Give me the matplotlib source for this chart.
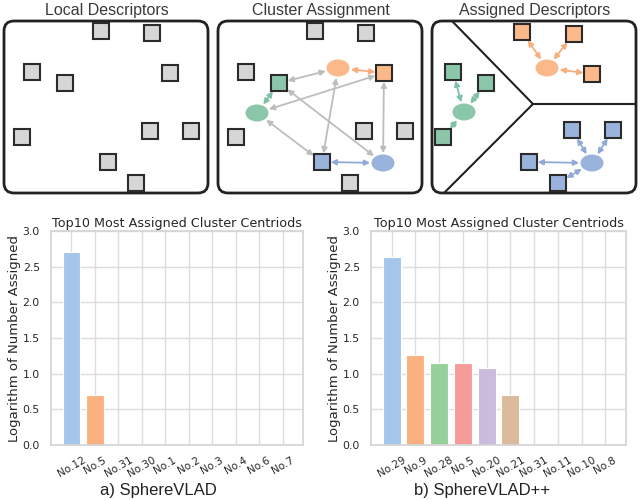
import numpy as np
import matplotlib
matplotlib.use('Agg')
import matplotlib.pyplot as plt
import seaborn as sns
from matplotlib.patches import FancyBboxPatch, Rectangle, Ellipse, FancyArrowPatch

### data
labels_a = ['No.12', 'No.5', 'No.31', 'No.30', 'No.1', 'No.2', 'No.3', 'No.4', 'No.6', 'No.7']
values_a = [2.71, 0.70, 0, 0, 0, 0, 0, 0, 0, 0]
labels_b = ['No.29', 'No.9', 'No.28', 'No.5', 'No.20', 'No.21', 'No.31', 'No.11', 'No.10', 'No.8']
values_b = [2.64, 1.255, 1.146, 1.146, 1.079, 0.70, 0, 0, 0, 0]
chart_title = 'Top10 Most Assigned Cluster Centriods'
ylabel = 'Logarithm of Number Assigned'
panel_titles = ['Local Descriptors', 'Cluster Assignment', 'Assigned Descriptors']

# diagram layout (pixel coords)
desc_x = [101, 152, 32, 65, 170, 22, 150, 191, 108, 136]
desc_y = [31, 33, 72, 83, 73, 137, 131, 131, 162, 183]
box2_shift = 214
colored_idx = {3: 'g', 4: 'o', 8: 'b'}     # which descriptors are colored in panel 2
cent2 = {'g': (257, 113), 'o': (338, 68), 'b': (383, 163)}
gray_links = [(3, 'o'), (4, 'g'), (3, 'b'), (8, 'g'), (8, 'o'), (4, 'b')]
sq3 = {'o': [(522, 32), (574, 34), (592, 74)],
       'g': [(453, 72), (486, 83), (443, 137)],
       'b': [(572, 130), (613, 130), (529, 162), (558, 183)]}
cent3 = {'o': (547, 68), 'g': (464, 112), 'b': (592, 163)}

cfill = {'g': '#8cc6aa', 'o': '#fbb98a', 'b': '#9ab3dc'}
carrow = {'g': '#7fc1a5', 'o': '#f7ad7c', 'b': '#8fa9d8'}
bar_colors = ['#a3c6ea', '#fab17f', '#97d09b', '#f59c99', '#cbbbdd', '#dbba9b',
              '#e9b8dc', '#cfcfcf', '#e5e0a6', '#a8dcea']

sns.set_theme(style='whitegrid')

fig = plt.figure(figsize=(6.4, 5), dpi=100)

# ---- top diagram
dax = fig.add_axes([0, 0, 1, 1])
dax.set_xlim(0, 640)
dax.set_ylim(500, 0)
dax.axis('off')

for x0, t in zip([3, 217, 431], panel_titles):
    dax.add_patch(FancyBboxPatch((x0 + 1, 21), 204, 172, boxstyle='round,pad=0,rounding_size=10',
                                 fc='white', ec='#222222', lw=2.0, zorder=1))
    dax.text(x0 + 104, 10, t, ha='center', va='center', fontsize=11.5,
             family='Liberation Sans', color='#3a3a3a')

def square(x, y, fc):
    r = Rectangle((x - 8, y - 8), 16, 16, fc=fc, ec='#2b2b2b', lw=1.5, zorder=4)
    dax.add_patch(r)
    return r

def centroid(x, y, fc):
    e = Ellipse((x, y), 23, 17, fc=fc, ec='none', zorder=4)
    dax.add_patch(e)
    return e

def arrow(pa, pb, a, b, col):
    dax.add_patch(FancyArrowPatch(pa, pb, patchA=a, patchB=b, arrowstyle='<|-|>',
                                  mutation_scale=8, color=col, lw=1.3, shrinkA=1, shrinkB=1, zorder=3))

# panel 1
for x, y in zip(desc_x, desc_y):
    square(x, y, '#d6d6d6')

# panel 2
sq2 = {}
for i, (x, y) in enumerate(zip(desc_x, desc_y)):
    c = colored_idx.get(i)
    sq2[i] = square(x + box2_shift, y, cfill[c] if c else '#d6d6d6')
ce2 = {k: centroid(*v, cfill[k]) for k, v in cent2.items()}
for i, k in gray_links:
    arrow((desc_x[i] + box2_shift, desc_y[i]), cent2[k], sq2[i], ce2[k], '#bdbdbd')
for i, k in colored_idx.items():
    arrow((desc_x[i] + box2_shift, desc_y[i]), cent2[k], sq2[i], ce2[k], carrow[k])

# panel 3
dax.plot([452, 533, 636], [21, 104, 104], color='#222222', lw=1.5, zorder=2)
dax.plot([533, 444], [104, 193], color='#222222', lw=1.5, zorder=2)
for k, pts in sq3.items():
    e = centroid(*cent3[k], cfill[k])
    for p in pts:
        s = square(*p, cfill[k])
        arrow(p, cent3[k], s, e, carrow[k])

# ---- bar charts
def bar_chart(rect, labels, values, caption, cap_x):
    ax = fig.add_axes(rect)
    x = np.arange(len(labels))
    ax.bar(x, values, width=0.75, color=bar_colors[:len(labels)], edgecolor='white', lw=0.8, zorder=2)
    ax.set_xlim(-0.87, 9.87)
    ax.set_ylim(0, 3)
    ax.set_yticks(np.arange(0, 3.01, 0.5))
    ax.set_xticks(x)
    ax.set_xticklabels(labels, rotation=30, ha='center', fontsize=7.5)
    ax.tick_params(axis='y', labelsize=7.8, pad=2)
    ax.tick_params(axis='x', pad=1)
    ax.set_title(chart_title, fontsize=9.2, pad=3)
    ax.set_ylabel(ylabel, fontsize=9.5, labelpad=1)
    ax.grid(True, color='#dddddd', lw=1.0)
    for s in ax.spines.values():
        s.set_color('#d5d5d5')
    fig.text(cap_x / 640, 0.02, caption, ha='center', va='center',
             fontsize=12, family='Liberation Sans', color='#222222')
    return ax

bar_chart([51 / 640, 55 / 500, 252 / 640, 214 / 500], labels_a, values_a, 'a) SphereVLAD', 158)
bar_chart([371 / 640, 55 / 500, 255 / 640, 214 / 500], labels_b, values_b, 'b) SphereVLAD++', 482)

fig.savefig('out.png', dpi=100)
